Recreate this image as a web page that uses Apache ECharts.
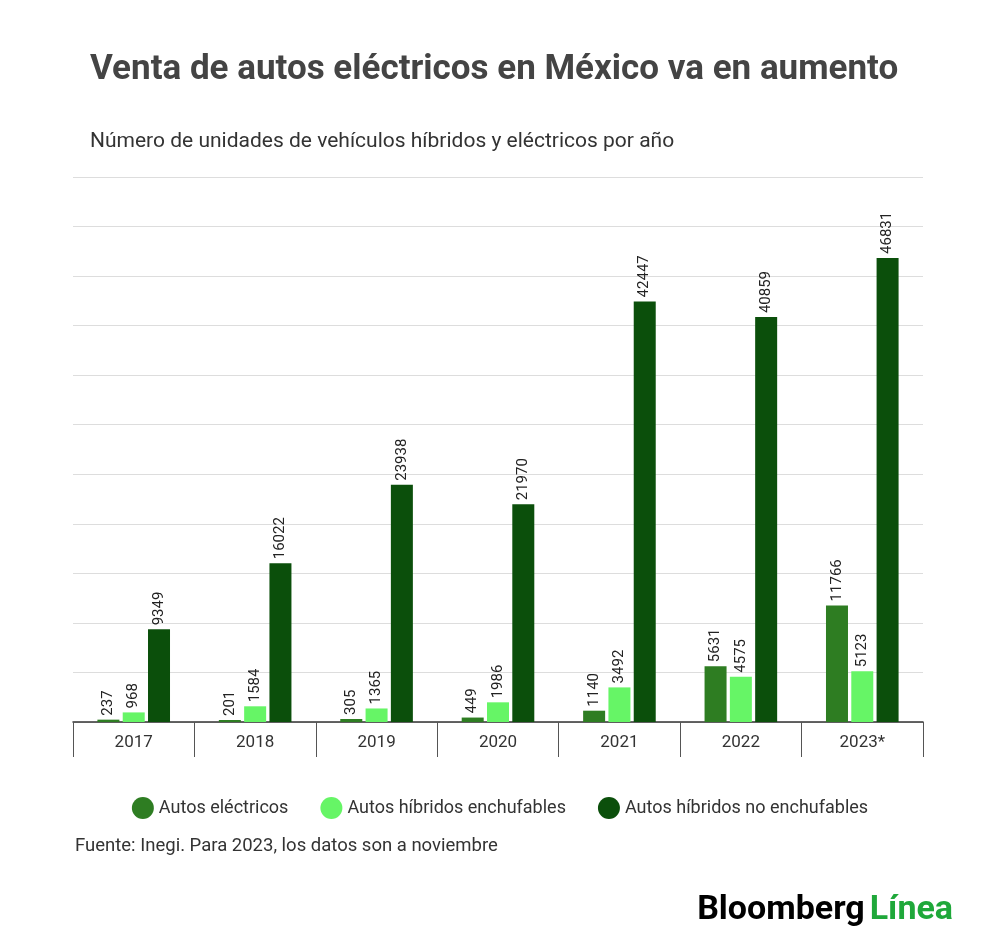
<!DOCTYPE html>
<html><head><meta charset="utf-8">
<script src="https://cdn.jsdelivr.net/npm/echarts@6/dist/echarts.min.js"></script>
<style>html,body{margin:0;padding:0;background:#fff}#c{width:1000px;height:951px}</style>
</head><body><div id="c"></div>
<script>
const years = ['2017', '2018', '2019', '2020', '2021', '2022', '2023*'];
const electricos = [237, 201, 305, 449, 1140, 5631, 11766];
const enchufables = [968, 1584, 1365, 1986, 3492, 4575, 5123];
const noEnchufables = [9349, 16022, 23938, 21970, 42447, 40859, 46831];

const chart = echarts.init(document.getElementById('c'));
const font = 'Roboto';
const label = {
  show: true, position: 'top', rotate: 90, align: 'left', verticalAlign: 'middle',
  distance: 4, color: '#222', fontSize: 15, fontFamily: font
};
function s(name, data, color) {
  return { name, type: 'bar', data, barWidth: 22, barGap: '15%', itemStyle: { color }, label };
}
chart.setOption({
  animation: false,
  title: [
    { text: 'Venta de autos eléctricos en México va en aumento', left: 85, top: 48,
      textStyle: { fontFamily: font, fontSize: 35, fontWeight: 'bold', color: '#444' } },
    { text: 'Número de unidades de vehículos híbridos y eléctricos por año', left: 85, top: 126,
      textStyle: { fontFamily: font, fontSize: 21, fontWeight: 'normal', color: '#333' } },
    { text: 'Fuente: Inegi. Para 2023, los datos son a noviembre', left: 70, top: 832,
      textStyle: { fontFamily: font, fontSize: 18.5, fontWeight: 'normal', color: '#333' } },
    { text: '{a|Bloomberg} {b|Línea}', right: 42, top: 888,
      textStyle: { rich: {
        a: { fontFamily: font, fontSize: 34, fontWeight: 'bold', color: '#000' },
        b: { fontFamily: font, fontSize: 34, fontWeight: 'bold', color: '#1fa83a' } } } }
  ],
  legend: {
    left: 'center', top: 792, icon: 'circle', itemWidth: 22, itemHeight: 22, itemGap: 32,
    textStyle: { fontFamily: font, fontSize: 18, color: '#333' }
  },
  grid: { left: 73, right: 77, top: 177, bottom: 229 },
  xAxis: {
    type: 'category', data: years,
    axisLine: { lineStyle: { color: '#333', width: 1.5 } },
    axisTick: { show: true, length: 35, alignWithLabel: false, lineStyle: { color: '#555' } },
    axisLabel: { fontFamily: font, fontSize: 17, color: '#333', margin: 12 }
  },
  yAxis: {
    type: 'value', min: 0, max: 55000, interval: 5000,
    axisLabel: { show: false }, axisLine: { show: false }, axisTick: { show: false },
    splitLine: { lineStyle: { color: '#ddd' } }
  },
  series: [
    s('Autos eléctricos', electricos, '#2e7d22'),
    s('Autos híbridos enchufables', enchufables, '#66f566'),
    s('Autos híbridos no enchufables', noEnchufables, '#0b4f0b')
  ]
});
</script></body></html>
